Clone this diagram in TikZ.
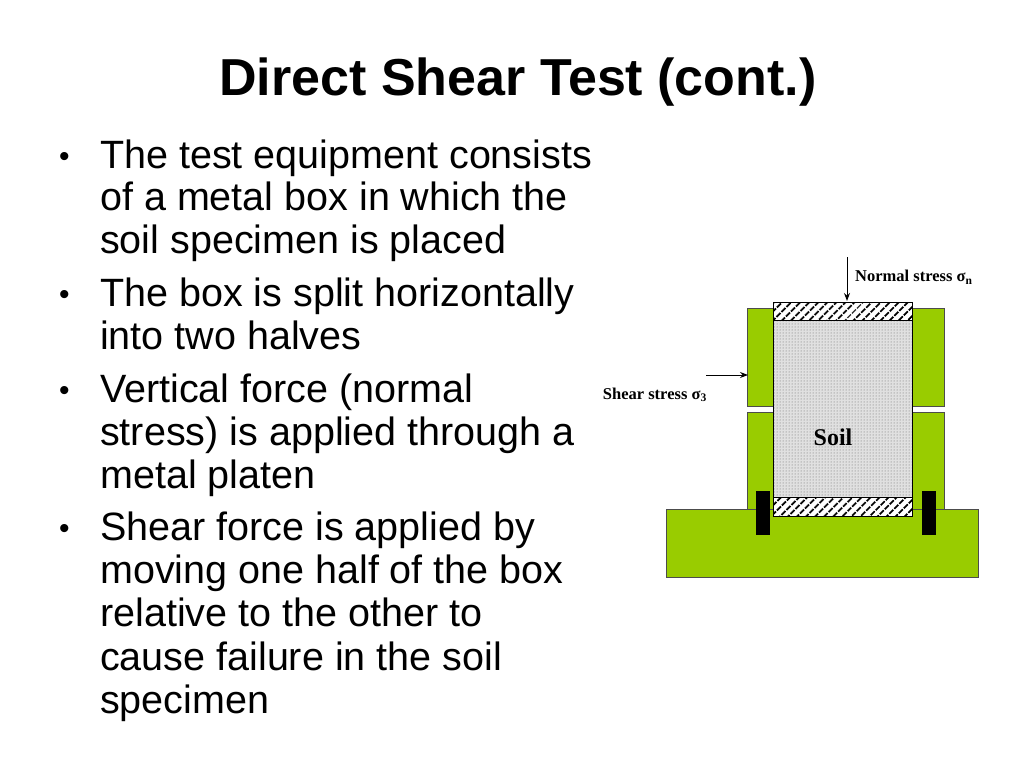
\documentclass[tikz,border=0pt]{standalone}
\usepackage{fontspec}
\setmainfont{Liberation Sans}
\newfontfamily\tnr{Liberation Serif}
\usetikzlibrary{patterns,patterns.meta,arrows.meta}
\definecolor{grn}{RGB}{153,204,0}
\begin{document}
\begin{tikzpicture}[x=1pt,y=-1pt,
  gbox/.style={draw=black!70,fill=grn,line width=0.8pt},
  blk/.style={fill=black},
  body/.style={anchor=base west,font=\fontsize{39.5}{39.5}\selectfont,inner sep=0pt},
  bul/.style={anchor=base west,font=\fontsize{30}{30}\selectfont,inner sep=0pt},
  lab/.style={font=\tnr\bfseries\fontsize{16.5}{16.5}\selectfont,inner sep=0pt},
  arr/.style={-{Stealth[length=8pt,width=6pt]},line width=1pt},
  hp/.style={pattern={Lines[angle=45,distance=6.5pt,line width=2pt]}}]
\useasboundingbox (0,0) rectangle (1024,768);
\node[font=\bfseries\fontsize{52}{52}\selectfont] (title) at (518,82) {Direct Shear Test (cont.)};
\foreach \y/\b/\t in {168/1/The test equipment consists, 210/0/of a metal box in which the, 253/0/soil specimen is placed,
  306/1/The box is split horizontally, 349/0/into two halves,
  402/1/Vertical force (normal, 445/0/stress) is applied through a, 488/0/metal platen,
  540/1/Shear force is applied by, 583/0/moving one half of the box, 626/0/relative to the other to, 670/0/cause failure in the soil, 713/0/specimen}{
  \node[body] at (100,\y) {\t};
  \ifnum\b=1 \node[bul] at (59,\y-2) {•};\fi
}
\path[gbox] (666,509) rectangle (978,577);
\path[gbox] (747,308) rectangle (773,406);
\path[gbox] (912,308) rectangle (944,406);
\path[gbox] (747,412) rectangle (773,509);
\path[gbox] (912,412) rectangle (944,509);
\fill[black!12] (773,320) rectangle (912,497);
\fill[pattern=dots,pattern color=black!60] (773,320) rectangle (912,497);
\draw[line width=0.8pt] (773,320) rectangle (912,497);
\fill[white] (773,302) rectangle (912,320);
\fill[hp] (773,302) rectangle (912,320);
\draw[line width=1pt] (773,302) rectangle (912,320);
\fill[white] (773,497) rectangle (912,516);
\fill[hp] (773,497) rectangle (912,516);
\draw[line width=1pt] (773,497) rectangle (912,516);
\path[blk] (756,491) rectangle (770,535);
\path[blk] (922,491) rectangle (936,535);
\node[lab,font=\tnr\bfseries\fontsize{24}{24}\selectfont] (soil) at (833,437) {Soil};
\coordinate (ntop) at (847,257);
\coordinate (nbot) at (847,301);
\draw[arr] (ntop) -- (nbot);
\node[lab,anchor=west] (nlab) at (855,277) {Normal stress σ\textsubscript{n}};
\coordinate (sl) at (706,375);
\coordinate (sr) at (748,375);
\draw[arr] (sl) -- (sr);
\node[lab,anchor=east] (slab) at (707,395) {Shear stress σ\textsubscript{3}};
\end{tikzpicture}
\end{document}
